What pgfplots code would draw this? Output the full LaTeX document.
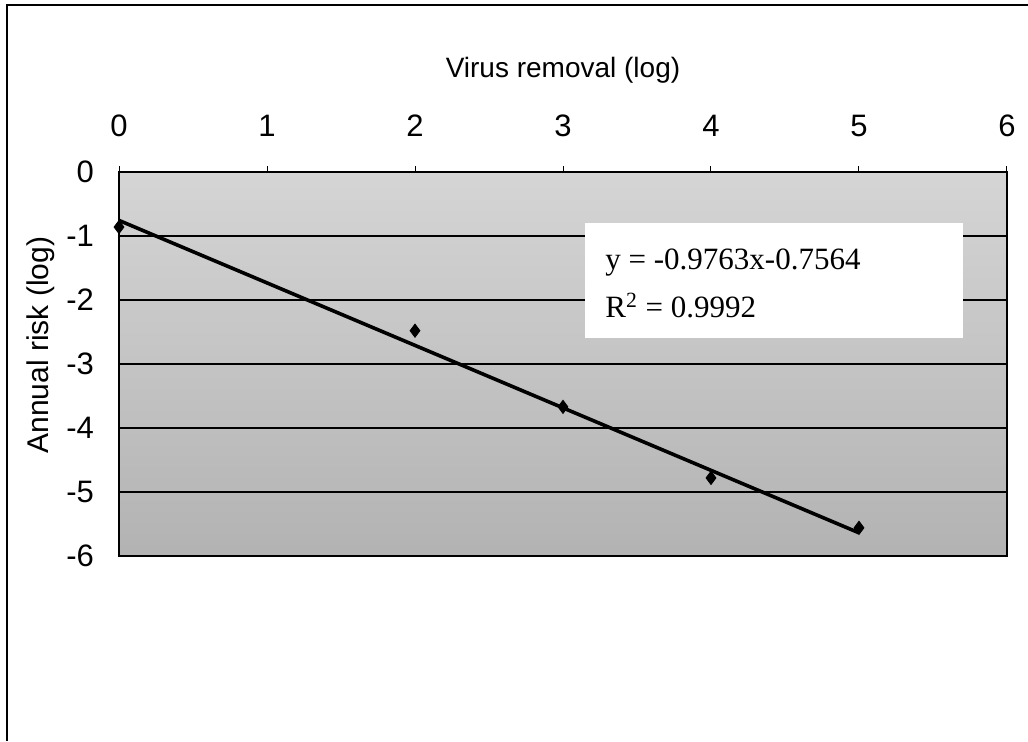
\documentclass[border=0pt]{standalone}
\usepackage{fontspec}
\setmainfont{Liberation Sans}
\newfontfamily\seriffont{Liberation Serif}
\usepackage{pgfplots}
\pgfplotsset{compat=1.18}
\begin{document}
\begin{tikzpicture}[x=1pt,y=1pt]
\useasboundingbox (0,0) rectangle (514,370.5);
\draw[line width=0.6pt] (3.5,0) -- (3.5,368) -- (514,368);
\begin{axis}[
  at={(59.5pt,92.5pt)}, anchor=south west,
  scale only axis, width=444pt, height=192pt,
  xmin=0, xmax=6, ymin=-6, ymax=0,
  xtick={0,1,2,3,4,5,6}, ytick={-6,-5,-4,-3,-2,-1,0},
  xticklabel pos=top,
  xtick pos=upper,
  tick align=outside,
  xtick style={black, line width=0.5pt},
  ytick style={draw=none},
  major tick length=3pt,
  ymajorgrids, grid style={black, line width=0.75pt},
  axis line style={black, line width=0.6pt},
  /pgf/number format/assume math mode=true,
  ticklabel style={font=\fontsize{15.5}{17}\selectfont},
  xticklabel style={yshift=11pt},
  yticklabel style={xshift=-6pt},
  axis background/.style={shade, top color=gray!33, bottom color=gray!60},
  clip=false,
]
\fill[white] (axis cs:3.15,-0.80) rectangle (axis cs:5.70,-2.59);
\node[anchor=base west, font=\seriffont\fontsize{15.5}{18}\selectfont, inner sep=0] at (axis cs:3.284,-1.53) {y = -0.9763x-0.7564};
\node[anchor=base west, font=\seriffont\fontsize{15.5}{18}\selectfont, inner sep=0] at (axis cs:3.284,-2.28) {R\textsuperscript{2} = 0.9992};
\addplot[black, line width=1.8pt, no marks] coordinates {(0,-0.7564) (5,-5.6379)};
\addplot[only marks, mark=diamond*, mark size=3.3pt, black] coordinates {
  (0,-0.86) (2,-2.48) (3,-3.67) (4,-4.78) (5,-5.56)
};
\end{axis}
\node[anchor=base, font=\fontsize{14}{16}\selectfont] at (281.5,331.5) {Virus removal (log)};
\node[rotate=90, font=\fontsize{15}{17}\selectfont] at (20.5,198) {Annual risk (log)};
\end{tikzpicture}
\end{document}
